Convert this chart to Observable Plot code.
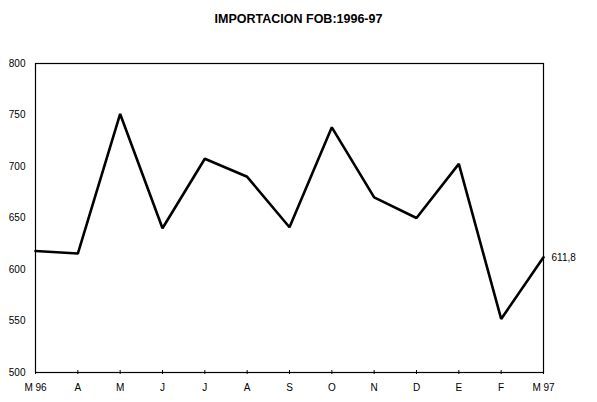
<!DOCTYPE html>
<html>
<head>
<meta charset="utf-8">
<script src="https://cdn.jsdelivr.net/npm/d3@7"></script>
<script src="https://cdn.jsdelivr.net/npm/@observablehq/plot@0.6"></script>
<style>
  html, body { margin: 0; padding: 0; background: #fff; }
  #title { width: 597px; height: 36px; line-height: 38px; text-align: center;
           font-family: "Liberation Sans", Arial, sans-serif; font-weight: bold; font-size: 12.5px; color: #000; }
  svg { display: block; }
</style>
</head>
<body>
<div id="title">IMPORTACION FOB:1996-97</div>
<div id="chart"></div>
<script>
const months = ["M 96", "A", "M", "J", "J", "A", "S", "O", "N", "D", "E", "F", "M 97"];
const values = [618, 615.5, 751, 640, 707.5, 690, 641, 738, 670, 650, 702.5, 552, 611.8];
const yTicks = [500, 550, 600, 650, 700, 750, 800];
const lastLabel = "611,8";

const idx = months.map((_, i) => i);
const data = idx.map(i => ({i, v: values[i]}));
const last = [data[data.length - 1]];

const chart = Plot.plot({
  width: 597,
  height: 366,
  marginTop: 27,
  marginBottom: 30,
  marginLeft: 35,
  marginRight: 54,
  style: {fontFamily: "'Liberation Sans', Arial, sans-serif", fontSize: "10px", color: "#000", background: "#fff"},
  x: {type: "linear", domain: [0, months.length - 1]},
  y: {domain: [500, 800]},
  marks: [
    Plot.frame({stroke: "#000", strokeWidth: 1.2}),
    Plot.axisY(yTicks, {tickSize: 0, tickPadding: 10, label: null, fontSize: 10}),
    Plot.axisX(idx, {tickSize: 4, dy: -2, tickFormat: () => "", label: null}),
    Plot.axisX(idx, {tickSize: 0, tickPadding: 11, tickFormat: i => months[i], label: null, fontSize: 10}),
    Plot.line(data, {x: "i", y: "v", stroke: "#000", strokeWidth: 2.6, strokeLinejoin: "miter"}),
    Plot.text(last, {x: "i", y: "v", text: () => lastLabel, textAnchor: "start", dx: 8, fontSize: 10})
  ]
});
document.getElementById("chart").appendChild(chart);
</script>
</body>
</html>
